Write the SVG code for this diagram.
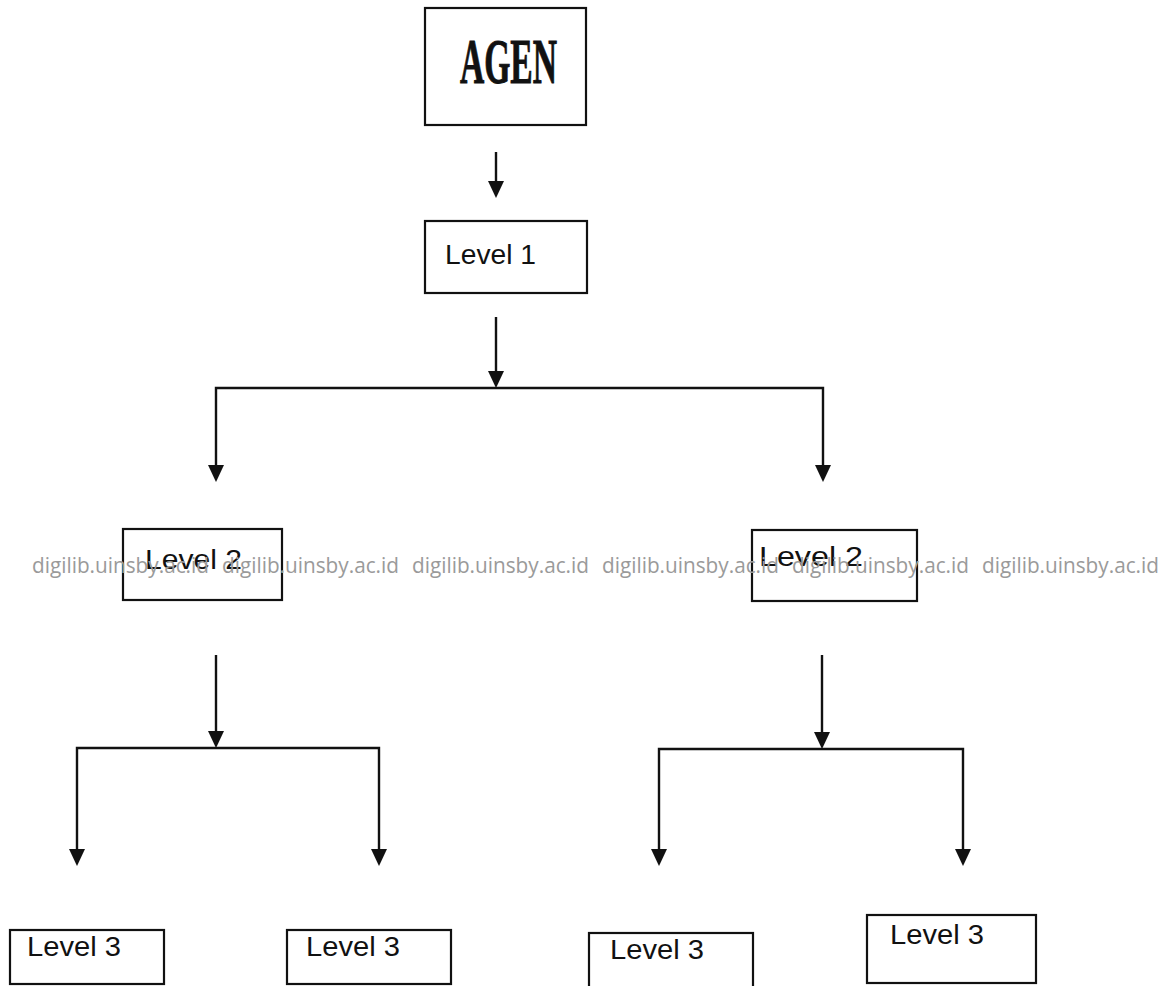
<svg xmlns="http://www.w3.org/2000/svg" width="1173" height="986" viewBox="0 0 1173 986">
<style>
.box{fill:#fff;stroke:#111;stroke-width:2.2}
.lbl{font-family:"Liberation Sans",Arial,sans-serif;font-size:27px;fill:#111}
.agen{font-family:"Liberation Serif","Times New Roman",serif;font-weight:bold;font-size:63px;fill:#111;stroke:#111;stroke-width:1}
.con{fill:none;stroke:#111;stroke-width:2.4}
.head{fill:#111}
.wm{font-family:"Open Sans","Liberation Sans",sans-serif;font-size:21px;fill:#9a9a9a}
</style>
<rect width="1173" height="986" fill="#fff"/>
<g id="connectors">
<path class="con" d="M496,152 V182"/>
<path class="head" d="M488,181 L504,181 L496,198 Z"/>
<path class="con" d="M496,317 V375"/>
<path class="head" d="M488,371 L504,371 L496,388 Z"/>
<path class="con" d="M216,470 V388 H823 V470"/>
<path class="head" d="M208,465 L224,465 L216,482 Z"/>
<path class="head" d="M815,465 L831,465 L823,482 Z"/>
<path class="con" d="M216,655 V735"/>
<path class="head" d="M208,731 L224,731 L216,748 Z"/>
<path class="con" d="M77,855 V748 H379 V855"/>
<path class="head" d="M69,849 L85,849 L77,866 Z"/>
<path class="head" d="M371,849 L387,849 L379,866 Z"/>
<path class="con" d="M822,655 V736"/>
<path class="head" d="M814,732 L830,732 L822,749 Z"/>
<path class="con" d="M659,855 V749 H963 V855"/>
<path class="head" d="M651,849 L667,849 L659,866 Z"/>
<path class="head" d="M955,849 L971,849 L963,866 Z"/>
</g>
<g id="agen">
<rect class="box" x="425" y="8" width="161" height="117"/>
<text class="agen" x="460" y="83" textLength="97" lengthAdjust="spacingAndGlyphs">AGEN</text>
</g>
<g id="level1">
<rect class="box" x="425" y="221" width="162" height="72"/>
<text class="lbl" x="445" y="264" textLength="91" lengthAdjust="spacingAndGlyphs">Level 1</text>
</g>
<g id="level2-left">
<rect class="box" x="123" y="529" width="159" height="71"/>
<text class="lbl" x="145" y="569" textLength="97" lengthAdjust="spacingAndGlyphs">Level 2</text>
</g>
<g id="level2-right">
<rect class="box" x="752" y="530" width="165" height="71"/>
<text class="lbl" x="759" y="566" textLength="104" lengthAdjust="spacingAndGlyphs">Level 2</text>
</g>
<g id="level3-a">
<rect class="box" x="10" y="930" width="154" height="54"/>
<text class="lbl" x="27" y="956" textLength="94" lengthAdjust="spacingAndGlyphs">Level 3</text>
</g>
<g id="level3-b">
<rect class="box" x="287" y="930" width="164" height="54"/>
<text class="lbl" x="306" y="956" textLength="94" lengthAdjust="spacingAndGlyphs">Level 3</text>
</g>
<g id="level3-c">
<rect class="box" x="589" y="933" width="164" height="60"/>
<text class="lbl" x="610" y="959" textLength="94" lengthAdjust="spacingAndGlyphs">Level 3</text>
</g>
<g id="level3-d">
<rect class="box" x="867" y="915" width="169" height="68"/>
<text class="lbl" x="890" y="944" textLength="94" lengthAdjust="spacingAndGlyphs">Level 3</text>
</g>
<g id="watermark">
<text class="wm" x="32" y="573" textLength="177" lengthAdjust="spacingAndGlyphs">digilib.uinsby.ac.id</text>
<text class="wm" x="222" y="573" textLength="177" lengthAdjust="spacingAndGlyphs">digilib.uinsby.ac.id</text>
<text class="wm" x="412" y="573" textLength="177" lengthAdjust="spacingAndGlyphs">digilib.uinsby.ac.id</text>
<text class="wm" x="602" y="573" textLength="177" lengthAdjust="spacingAndGlyphs">digilib.uinsby.ac.id</text>
<text class="wm" x="792" y="573" textLength="177" lengthAdjust="spacingAndGlyphs">digilib.uinsby.ac.id</text>
<text class="wm" x="982" y="573" textLength="177" lengthAdjust="spacingAndGlyphs">digilib.uinsby.ac.id</text>
</g>
</svg>
